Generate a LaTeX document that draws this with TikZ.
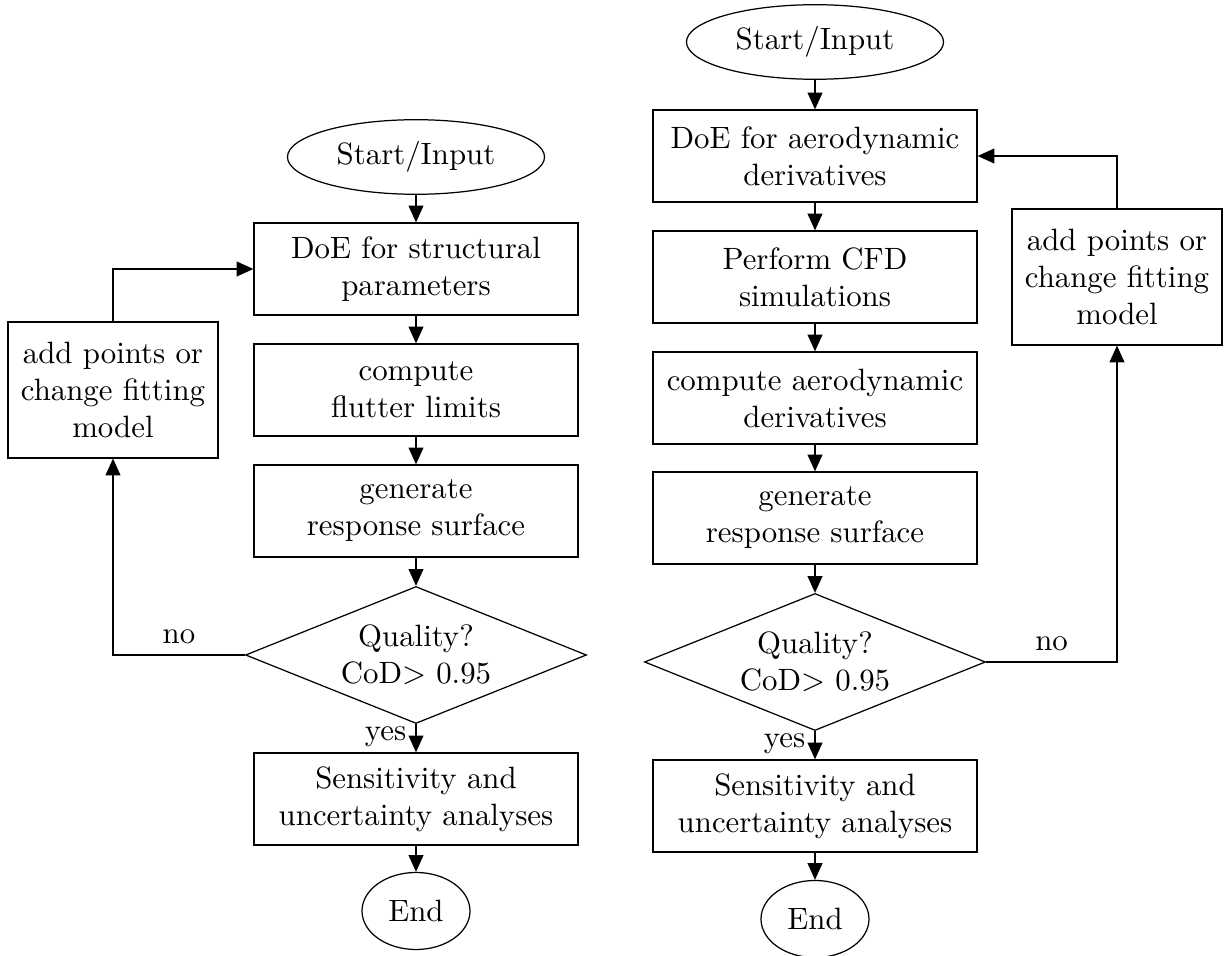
\documentclass[tikz,border=0pt]{standalone}
\usetikzlibrary{shapes.geometric, arrows.meta}

\tikzset{
  terminal/.style={draw, ellipse, inner sep=0pt, minimum width=2.93cm, minimum height=0.85cm},
  block/.style={draw, rectangle, align=center, minimum width=3.694cm, minimum height=1.049cm},
  refit/.style={draw, rectangle, align=center, minimum width=2.394cm, minimum height=1.55cm},
  decision/.style={draw, diamond, aspect=2.5, inner sep=0pt, align=center,
    minimum width=3.887cm, minimum height=1.562cm},
  flow/.style={->, >={Triangle[length=5.4pt, width=4.8pt]}},
}

\begin{document}
\begin{tikzpicture}[x=0.0114cm, y=-0.0114cm]
      \useasboundingbox (0,0) rectangle (1225,956);

      % structural parameters
      \node[terminal] (startL) at (416,157) {Start/Input};
      \node[block] (doeL) at (416,269) {DoE for structural\\parameters};
      \node[block] (fluL) at (416,390) {compute\\flutter limits};
      \node[block] (resL) at (416,511) {generate\\response surface};
      \node[decision] (qualL) at (416,655) {Quality?\\CoD$>$ 0.95};
      \node[block] (senL) at (416,799) {Sensitivity and\\uncertainty analyses};
      \node[terminal, minimum width=1.231cm, minimum height=0.878cm] (endL) at (416,911) {End};
      \node[refit] (fitL) at (113,390) {add points or\\change fitting\\model};

      \draw[flow] (startL) -- (doeL);
      \draw[flow] (doeL) -- (fluL);
      \draw[flow] (fluL) -- (resL);
      \draw[flow] (resL) -- (qualL);
      \draw[flow] (qualL) -- node[left, pos=0.45, inner sep=3pt]{yes} (senL);
      \draw[flow] (senL) -- (endL);
      \draw[flow] (qualL.west) -| node[above, pos=0.25]{no} (fitL.south);
      \draw[flow] (fitL.north) |- (doeL.west);

      % aerodynamic derivatives
      \node[terminal] (startR) at (815,42) {Start/Input};
      \node[block] (doeR) at (815,156) {DoE for aerodynamic\\derivatives};
      \node[block] (cfdR) at (815,277) {Perform CFD\\simulations};
      \node[block] (derR) at (815,398) {compute aerodynamic\\derivatives};
      \node[block] (resR) at (815,518) {generate\\response surface};
      \node[decision] (qualR) at (815,662) {Quality?\\CoD$>$ 0.95};
      \node[block] (senR) at (815,806) {Sensitivity and\\uncertainty analyses};
      \node[terminal, minimum width=1.231cm, minimum height=0.878cm] (endR) at (815,919) {End};
      \node[refit] (fitR) at (1117,277) {add points or\\change fitting\\model};

      \draw[flow] (startR) -- (doeR);
      \draw[flow] (doeR) -- (cfdR);
      \draw[flow] (cfdR) -- (derR);
      \draw[flow] (derR) -- (resR);
      \draw[flow] (resR) -- (qualR);
      \draw[flow] (qualR) -- node[left, pos=0.45, inner sep=3pt]{yes} (senR);
      \draw[flow] (senR) -- (endR);
      \draw[flow] (qualR.east) -| node[above, pos=0.25]{no} (fitR.south);
      \draw[flow] (fitR.north) |- (doeR.east);
\end{tikzpicture}
\end{document}
